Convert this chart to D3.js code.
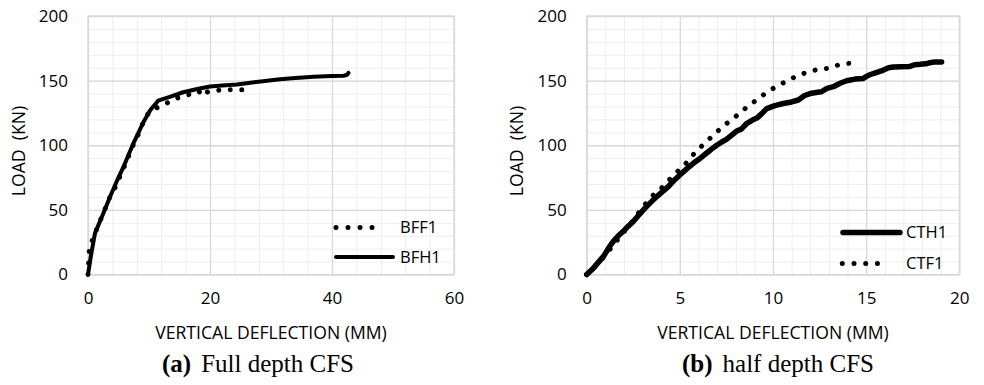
<!DOCTYPE html>
<html>
<head>
<meta charset="utf-8">
<script src="https://cdn.jsdelivr.net/npm/d3@7"></script>
<style>
  html, body { margin: 0; padding: 0; background: #fff; }
  svg { display: block; }
</style>
</head>
<body>
<svg id="chart" width="984" height="385"></svg>
<script>
// ---------- DATA ----------
// (a) Full depth CFS  [deflection mm, load kN]
const bff1 = [[0,0],[0.2,19],[0.8,28],[1.5,36],[2.2,44],[2.9,52],[3.6,60],[4.4,67],[5.1,74.5],[5.9,83],[6.6,91],[7.4,100],[8.2,108],[8.9,116],[9.6,123],[10.4,127],[11.1,128.6],[12.7,132],[14.3,136],[16.2,139],[18.1,140],[18.5,143],[19,140],[19.7,141.5],[21.6,142.7],[23.5,143],[25.5,143]];
const bfh1 = [[0,0],[0.5,15],[1.15,32],[2.4,46],[3.6,60],[4.7,72],[5.8,83],[6.6,92],[7.4,101],[8.3,110],[9.1,118],[10.2,127],[11.5,134.5],[13.4,137.5],[15.6,141],[18.1,143.7],[20,145.5],[22,146.2],[24.4,147],[26,148],[27.6,149],[31.5,151],[34,152],[37,153],[40,153.5],[41.9,153.8],[42.5,154.5],[42.7,156]];
// (b) half depth CFS
const cth1 = [[0,0],[0.3,4],[0.6,9],[0.9,14],[1.2,21],[1.43,25.7],[1.7,30],[1.96,33.4],[2.2,37],[2.5,41],[2.8,46],[3.13,51.3],[3.45,56],[3.76,60.3],[4.1,64.5],[4.38,68],[4.7,73],[5.0,77],[5.35,81.5],[5.72,86],[6.1,90],[6.44,94],[6.7,97],[6.98,100],[7.25,102.5],[7.5,104.5],[7.8,108],[8.05,111],[8.3,112.5],[8.6,117],[8.9,119.5],[9.13,121],[9.4,124.5],[9.66,128.3],[10.1,130.7],[10.55,132.3],[11.0,133.5],[11.36,135],[11.7,138.5],[11.99,140],[12.4,141],[12.6,141.4],[12.9,144],[13.24,145.3],[13.6,148],[13.95,149.9],[14.4,151.2],[14.85,151.7],[15.1,154],[15.38,155.5],[15.7,157],[15.9,158],[16.2,160],[16.46,160.6],[16.9,160.8],[17.35,161],[17.6,162.3],[17.9,162.6],[18.2,163],[18.43,163.9],[18.7,164.5],[19.05,164.4]];
const ctf1 = [[0,0],[0.5,7],[1,15],[1.5,24],[2,33],[2.5,42],[3,52],[3.5,60.5],[3.93,65.6],[4.35,72],[4.78,78.5],[5.22,84],[5.6,91],[6,97],[6.44,103],[6.89,109],[7.33,115],[7.82,120],[8.27,125.7],[8.73,131],[9.21,136],[9.71,141.4],[10.2,145.6],[10.73,149.6],[11.27,153.5],[11.84,156.6],[12.43,158.7],[13.02,159.7],[13.6,162.6],[14.22,163.6]];

const xTicksA = [0, 20, 40, 60];
const xTicksB = [0, 5, 10, 15, 20];
const yTicks = [0, 50, 100, 150, 200];
const xTitle = "VERTICAL DEFLECTION (MM)";
const yTitle = "LOAD  (KN)";

// ---------- DRAW ----------
const svg = d3.select("#chart");
const FONT = "'Open Sans', 'Liberation Sans', sans-serif";

function panel(cfg) {
  const x = d3.scaleLinear().domain(cfg.xDomain).range([cfg.left, cfg.right]);
  const y = d3.scaleLinear().domain([0, 200]).range([274.5, 16]);
  const g = svg.append("g");
  const w = cfg.right - cfg.left, h = 274.5 - 16;

  // minor grid
  g.append("g").attr("transform", `translate(0,274.5)`)
    .call(d3.axisBottom(x).tickValues(d3.range(cfg.xDomain[0], cfg.xDomain[1] + 1e-9, cfg.xMinor)).tickSize(-h).tickFormat(""))
    .call(s => s.select(".domain").remove())
    .selectAll("line").attr("stroke", "#eeeeee").attr("stroke-width", 1);
  g.append("g").attr("transform", `translate(${cfg.left},0)`)
    .call(d3.axisLeft(y).tickValues(d3.range(0, 201, 10)).tickSize(-w).tickFormat(""))
    .call(s => s.select(".domain").remove())
    .selectAll("line").attr("stroke", "#eeeeee").attr("stroke-width", 1);
  // major grid
  g.append("g").attr("transform", `translate(0,274.5)`)
    .call(d3.axisBottom(x).tickValues(cfg.xTicks).tickSize(-h).tickFormat(""))
    .call(s => s.select(".domain").remove())
    .selectAll("line").attr("stroke", "#d9d9d9").attr("stroke-width", 1.3);
  g.append("g").attr("transform", `translate(${cfg.left},0)`)
    .call(d3.axisLeft(y).tickValues(yTicks).tickSize(-w).tickFormat(""))
    .call(s => s.select(".domain").remove())
    .selectAll("line").attr("stroke", "#d9d9d9").attr("stroke-width", 1.3);

  // plot border
  g.append("rect").attr("x", cfg.left).attr("y", 16).attr("width", w).attr("height", h)
    .attr("fill", "none").attr("stroke", "#d9d9d9").attr("stroke-width", 1.3);

  // tick labels
  const xa = g.append("g").attr("transform", `translate(0,274.5)`)
    .call(d3.axisBottom(x).tickValues(cfg.xTicks).tickSize(0).tickPadding(17));
  xa.select(".domain").remove();
  xa.selectAll("text").attr("font-family", FONT).attr("font-size", 17).attr("fill", "#000");
  const ya = g.append("g").attr("transform", `translate(${cfg.left},0)`)
    .call(d3.axisLeft(y).tickValues(yTicks).tickSize(0).tickPadding(20));
  ya.select(".domain").remove();
  ya.selectAll("text").attr("font-family", FONT).attr("font-size", 17).attr("fill", "#000");

  // axis titles
  g.append("text").attr("x", (cfg.left + cfg.right) / 2).attr("y", 339)
    .attr("text-anchor", "middle").attr("font-family", FONT).attr("font-size", 17.6)
    .text(xTitle);
  g.append("text").attr("transform", `translate(${cfg.yTitleX},151) rotate(-90)`)
    .attr("text-anchor", "middle").attr("font-family", FONT).attr("font-size", 17.6)
    .style("white-space", "pre")
    .text(yTitle);

  // caption
  const cap = g.append("text").attr("x", cfg.capX).attr("y", 372)
    .attr("font-family", "'Liberation Serif', 'Times New Roman', serif").attr("font-size", 25);
  cap.append("tspan").attr("font-weight", "bold").text(cfg.capBold);
  cap.append("tspan").attr("dx", 10).text(cfg.capText);

  // series
  const line = d3.line().x(d => x(d[0])).y(d => y(d[1]));
  cfg.series.forEach(s => {
    g.append("path").datum(s.data).attr("d", line)
      .attr("fill", "none").attr("stroke", "#000")
      .attr("stroke-width", s.width)
      .attr("stroke-linecap", "round").attr("stroke-linejoin", "round")
      .attr("stroke-dasharray", s.dotted ? `0.01 ${s.gap}` : null);
  });

  // legend
  cfg.legend.forEach(l => {
    g.append("line").attr("x1", l.x1).attr("x2", l.x2).attr("y1", l.y).attr("y2", l.y)
      .attr("stroke", "#000").attr("stroke-width", l.width).attr("stroke-linecap", "round")
      .attr("stroke-dasharray", l.dotted ? `0.01 ${l.gap}` : null);
    g.append("text").attr("x", l.tx).attr("y", l.y).attr("dy", "0.36em")
      .attr("font-family", FONT).attr("font-size", 16.5).text(l.label);
  });
}

panel({
  xDomain: [0, 60], left: 88, right: 454, xTicks: xTicksA, xMinor: 4, yTitleX: 25,
  capX: 162, capBold: "(a)", capText: "Full depth CFS",
  series: [
    { data: bfh1, dotted: false, width: 4 },
    { data: bff1, dotted: true, width: 5, gap: 11.5 }
  ],
  legend: [
    { label: "BFF1", x1: 336, x2: 384, y: 227.5, tx: 400, dotted: true, width: 5, gap: 12 },
    { label: "BFH1", x1: 336, x2: 393, y: 257, tx: 400, dotted: false, width: 4 }
  ]
});

panel({
  xDomain: [0, 20], left: 586.7, right: 959.3, xTicks: xTicksB, xMinor: 1, yTitleX: 523,
  capX: 682, capBold: "(b)", capText: "half depth CFS",
  series: [
    { data: ctf1, dotted: true, width: 5, gap: 11.5 },
    { data: cth1, dotted: false, width: 5.5 }
  ],
  legend: [
    { label: "CTH1", x1: 843, x2: 900, y: 232.5, tx: 906, dotted: false, width: 5.5 },
    { label: "CTF1", x1: 842.3, x2: 889, y: 263.5, tx: 906, dotted: true, width: 5, gap: 11.7 }
  ]
});
</script>
</body>
</html>
